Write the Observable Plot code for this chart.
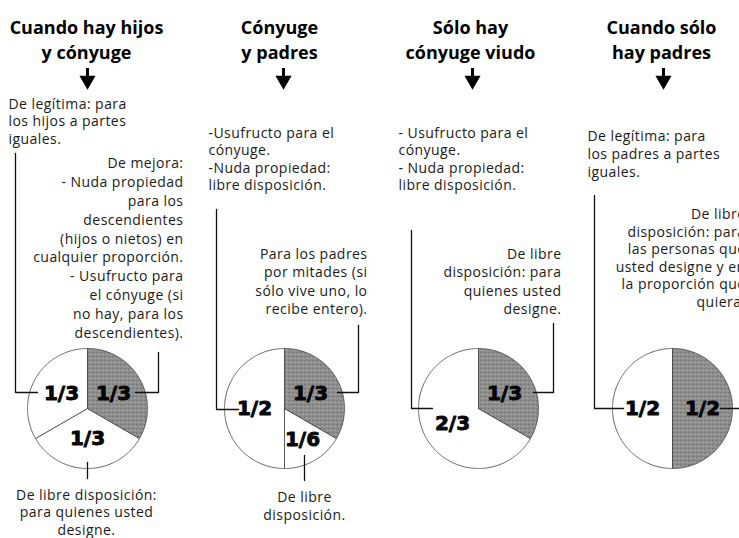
<!DOCTYPE html>
<html><head><meta charset="utf-8">
<script src="https://cdn.jsdelivr.net/npm/d3@7"></script>
<script src="https://cdn.jsdelivr.net/npm/@observablehq/plot@0.6"></script>
<style>body{margin:0;background:#fff;} #chart{width:739px;height:538px;overflow:hidden}</style>
</head><body><div id="chart"></div>
<script>
// ---- data ----
const scenarioTitles = ["Cuando hay hijos\ny cónyuge", "Cónyuge\ny padres", "Sólo hay\ncónyuge viudo", "Cuando sólo\nhay padres"];
const sliceScenario = [0, 0, 0, 1, 1, 1, 2, 2, 3, 3];
const sliceShare    = [1/3, 1/3, 1/3, 1/3, 1/6, 1/2, 1/3, 2/3, 1/2, 1/2];
const sliceLabel    = ["1/3", "1/3", "1/3", "1/3", "1/6", "1/2", "1/3", "2/3", "1/2", "1/2"];
const sliceShaded   = [true, false, false, true, false, false, true, false, true, false];
const noteScenario  = [0, 0, 0, 1, 1, 1, 2, 2, 3, 3];
const noteText = [
  "De legítima: para\nlos hijos a partes\niguales.",
  "De mejora:\n- Nuda propiedad\npara los\ndescendientes\n(hijos o nietos) en\ncualquier proporción.\n- Usufructo para\nel cónyuge (si\nno hay, para los\ndescendientes).",
  "De libre disposición:\npara quienes usted\ndesigne.",
  "-Usufructo para el\ncónyuge.\n-Nuda propiedad:\nlibre disposición.",
  "Para los padres\npor mitades (si\nsólo vive uno, lo\nrecibe entero).",
  "De libre\ndisposición.",
  "- Usufructo para el\ncónyuge.\n- Nuda propiedad:\nlibre disposición.",
  "De libre\ndisposición: para\nquienes usted\ndesigne.",
  "De legítima: para\nlos padres a partes\niguales.",
  "De libre\ndisposición: para\nlas personas que\nusted designe y en\nla proporción que\nquiera."
];

// ---- fonts ----
const fontTitle = "'Open Sans', sans-serif", titleSize = 18;
const fontBody = "'Open Sans', 'Noto Sans', sans-serif";
const bodySize = 14;

// ---- layout (pixels) ----
const W = 739, H = 538;
const pieCX = [87, 284, 478, 672], pieCY = 408, R = 60;
const titleX = [86, 279, 470, 661], titleBase = 29, titleStep = 25;
const arrowX = [87, 283, 472, 663];
const noteLayout = [ // anchor, x, first baseline, line step
  ["start", 8, 106, 17.5],
  ["end", 183, 164, 18.9],
  ["middle", 86, 497, 17.5],
  ["start", 208, 135, 17.5],
  ["end", 367, 255, 18.5],
  ["middle", 304, 499, 18],
  ["start", 398, 135, 17.5],
  ["end", 561, 255, 18.5],
  ["start", 587, 138, 18],
  ["end", 745, 216, 17.6]
];
const connectors = [ // polylines relative to pie centre
  [0, [[-72,-255],[-72,-16],[-50,-16]]],
  [0, [[71,-56],[71,-16],[48,-16]]],
  [0, [[0,54],[0,70]]],
  [1, [[-68,-199],[-68,1],[-46,1]]],
  [1, [[74,-83],[74,-16],[53,-16]]],
  [1, [[20,47],[20,72]]],
  [2, [[-67,-178],[-67,0],[-46,0]]],
  [2, [[75,-85],[75,-16],[55,-16]]],
  [3, [[-78,-213],[-78,0],[-49,0]]],
  [3, [[48,0],[70,0]]]
];

// ---- derived geometry ----
const rad = d => d * Math.PI / 180;
const polar = (s, ang, r) => ({x: pieCX[s] + r * Math.sin(rad(ang)), y: pieCY - r * Math.cos(rad(ang))});
const slicePts = [], sliceLabels = [];
const cum = [0, 0, 0, 0];
sliceShare.forEach((v, i) => {
  const s = sliceScenario[i];
  const a0 = cum[s], a1 = a0 + v * 360;
  cum[s] = a1;
  const c = {x: pieCX[s], y: pieCY};
  slicePts.push({id: i, shaded: sliceShaded[i], ...c});
  for (let a = a0; a <= a1 + 1e-9; a += 1) slicePts.push({id: i, shaded: sliceShaded[i], ...polar(s, a, R)});
  slicePts.push({id: i, shaded: sliceShaded[i], ...polar(s, a1, R)});
  slicePts.push({id: i, shaded: sliceShaded[i], ...c});
  const mid = (a0 + a1) / 2;
  const lr = v < 0.2 ? 0.6 : 0.5;
  sliceLabels.push({label: sliceLabel[i], ...polar(s, mid, R * lr)});
});
const connPts = [];
connectors.forEach(([s, pts], i) => pts.forEach(([dx, dy]) => connPts.push({id: i, x: pieCX[s] + dx, y: pieCY + dy})));

const titles = scenarioTitles.map((t, i) => ({text: t, x: titleX[i], y: titleBase - 0.71 * titleSize}));
const arrows = arrowX.map(x => ({x, y1: 68, y2: 77, y: 80}));
const notes = noteText.map((t, i) => {
  const [anchor, x, base, step] = noteLayout[i];
  return {text: t, anchor, x, y: base - 0.71 * bodySize, lh: step / bodySize};
});

const noteMarks = ["start", "middle", "end"].flatMap(anchor => {
  const rows = notes.filter(n => n.anchor === anchor);
  const groups = d3.groups(rows, d => d.lh);
  return groups.map(([lh, g]) => Plot.text(g, {x: "x", y: "y", text: "text", textAnchor: anchor, lineAnchor: "top",
    lineHeight: lh, fontSize: bodySize, fill: "#1a1a1a", fontFamily: fontBody}));
});

const chart = Plot.plot({
  width: W, height: H, margin: 0,
  x: {domain: [0, W], range: [0, W], axis: null},
  y: {domain: [0, H], range: [0, H], axis: null},
  style: {fontFamily: fontBody, background: "white"},
  marks: [
    Plot.line(slicePts.filter(d => !d.shaded), {x: "x", y: "y", z: "id", fill: "white", stroke: "#444", strokeWidth: 0.8, curve: "linear"}),
    Plot.line(slicePts.filter(d => d.shaded), {x: "x", y: "y", z: "id", fill: "url(#stipple)", stroke: "#444", strokeWidth: 0.8, curve: "linear"}),
    Plot.line(connPts, {x: "x", y: "y", z: "id", stroke: "#111", strokeWidth: 1.3, curve: "linear"}),
    Plot.text(sliceLabels, {x: "x", y: "y", text: "label", fontSize: 20, fontWeight: 700, fill: "#050505", stroke: "#050505", strokeWidth: 0.9,
      fontFamily: "'DejaVu Sans', 'Liberation Sans', sans-serif"}),
    Plot.text(titles, {x: "x", y: "y", text: "text", fontSize: titleSize, fontWeight: 700, lineAnchor: "top", lineHeight: titleStep / titleSize, fill: "#000", fontFamily: fontTitle}),
    Plot.ruleX(arrows, {x: "x", y1: "y1", y2: "y2", strokeWidth: 3, stroke: "#000"}),
    Plot.dot(arrows, {x: "x", y: "y", symbol: "triangle", rotate: 180, r: 6, fill: "#000", stroke: "none"}),
    ...noteMarks
  ]
});
// body text a touch wider, like the reference face
d3.select(chart).selectAll(`g[font-size="${bodySize}"]`).style("letter-spacing", "0.45px");
// stipple pattern for the shaded slices
const defs = d3.select(chart).insert("defs", ":first-child");
const pat = defs.append("pattern").attr("id", "stipple").attr("patternUnits", "userSpaceOnUse").attr("width", 4).attr("height", 4);
pat.append("rect").attr("width", 4).attr("height", 4).attr("fill", "#8e8e8e");
[[0,0,"#666"],[2,1,"#b4b4b4"],[1,3,"#6e6e6e"],[3,2,"#a6a6a6"],[3,0,"#7a7a7a"],[1,1,"#a0a0a0"]].forEach(([x, y, c]) =>
  pat.append("rect").attr("x", x).attr("y", y).attr("width", 1).attr("height", 1).attr("fill", c));
document.getElementById("chart").appendChild(chart);
</script>
</body></html>
